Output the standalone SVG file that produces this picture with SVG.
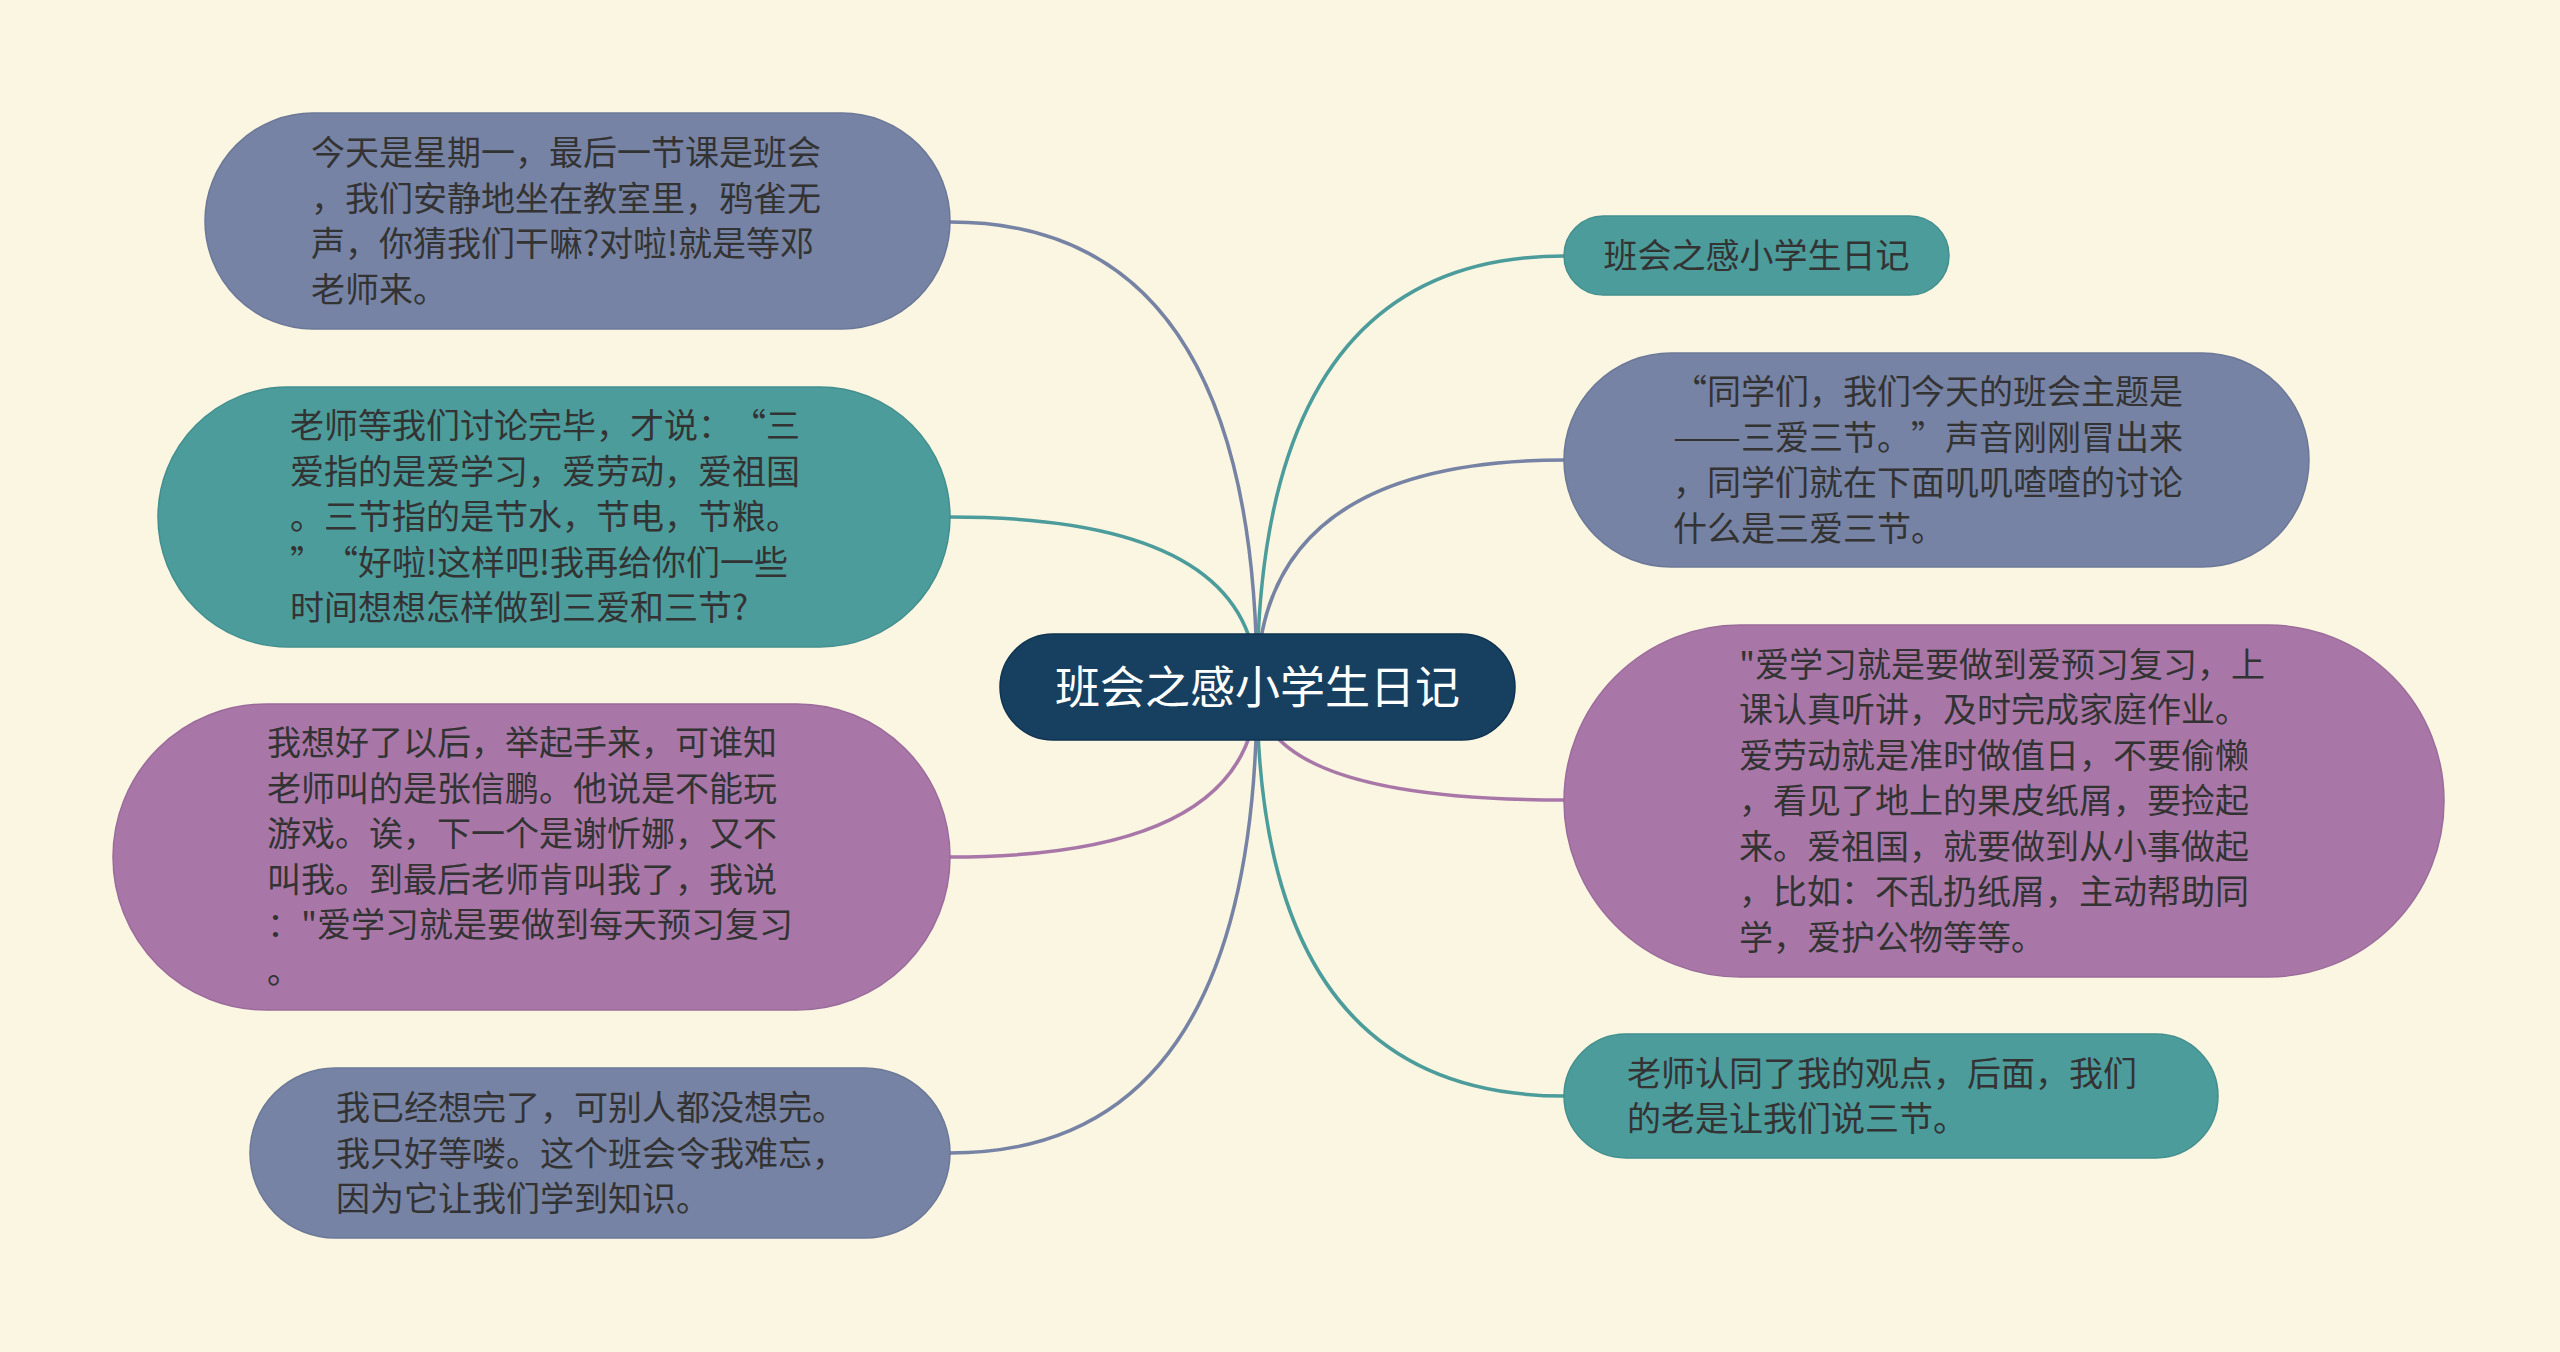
<svg xmlns="http://www.w3.org/2000/svg" width="2560" height="1352" viewBox="0 0 2560 1352">
<style>
.bg{fill:#faf6e1}
.slate{fill:#7783a4;stroke:#6c7898;stroke-width:1.5}
.teal{fill:#4c9c9c;stroke:#438f8f;stroke-width:1.5}
.purple{fill:#a877a8;stroke:#9b6b9b;stroke-width:1.5}
.root{fill:#173f5f;stroke:#0f3350;stroke-width:1.5}
.t{font-family:"Noto Sans CJK SC","Noto Sans",sans-serif;font-size:34px;fill:#333333}
.rt{font-family:"Noto Sans CJK SC","Noto Sans",sans-serif;font-size:45px;fill:#ffffff}
.c{fill:none;stroke-width:3.5;stroke-linecap:round}
.cs{stroke:#7783a4}
.ct{stroke:#4c9c9c}
.cp{stroke:#a877a8}
</style>
<rect class="bg" x="0" y="0" width="2560" height="1352"/>
<g id="connectors">
<path class="c cs" d="M 1257 687 Q 1257 222 950 222"/>
<path class="c ct" d="M 1257 687 Q 1257 517 950 517"/>
<path class="c cp" d="M 1257 687 Q 1257 857 950 857"/>
<path class="c cs" d="M 1257 687 Q 1257 1153 950 1153"/>
<path class="c ct" d="M 1257 687 Q 1257 256 1564 256"/>
<path class="c cs" d="M 1257 687 Q 1257 460 1564 460"/>
<path class="c cp" d="M 1257 687 Q 1257 800 1564 800"/>
<path class="c ct" d="M 1257 687 Q 1257 1096 1564 1096"/>
</g>
<g id="node-left-1">
<rect class="slate" x="205" y="113" width="745" height="216" rx="108"/>
<text class="t"><tspan x="311" y="165">今天是星期一，最后一节课是班会</tspan><tspan x="311" y="210.5">，我们安静地坐在教室里，鸦雀无</tspan><tspan x="311" y="256">声，你猜我们干嘛?对啦!就是等邓</tspan><tspan x="311" y="301.5">老师来。</tspan></text>
</g>
<g id="node-left-2">
<rect class="teal" x="158" y="387" width="792" height="260" rx="130"/>
<text class="t"><tspan x="290" y="438">老师等我们讨论完毕，才说：</tspan><tspan x="732" y="438">“</tspan><tspan x="766" y="438">三</tspan><tspan x="290" y="483.5">爱指的是爱学习，爱劳动，爱祖国</tspan><tspan x="290" y="529">。三节指的是节水，节电，节粮。</tspan><tspan x="290" y="574.5">”</tspan><tspan x="324" y="574.5">“</tspan><tspan x="358" y="574.5">好啦!这样吧!我再给你们一些</tspan><tspan x="290" y="620">时间想想怎样做到三爱和三节?</tspan></text>
</g>
<g id="node-left-3">
<rect class="purple" x="113" y="704" width="837" height="306" rx="153"/>
<text class="t"><tspan x="267" y="755">我想好了以后，举起手来，可谁知</tspan><tspan x="267" y="800.5">老师叫的是张信鹏。他说是不能玩</tspan><tspan x="267" y="846">游戏。诶，下一个是谢忻娜，又不</tspan><tspan x="267" y="891.5">叫我。到最后老师肯叫我了，我说</tspan><tspan x="267" y="937">："爱学习就是要做到每天预习复习</tspan><tspan x="267" y="982.5">。</tspan></text>
</g>
<g id="node-left-4">
<rect class="slate" x="250" y="1068" width="700" height="170" rx="85"/>
<text class="t"><tspan x="336" y="1120">我已经想完了，可别人都没想完。</tspan><tspan x="336" y="1165.5">我只好等喽。这个班会令我难忘，</tspan><tspan x="336" y="1211">因为它让我们学到知识。</tspan></text>
</g>
<g id="node-root">
<rect class="root" x="1000" y="634" width="515" height="106" rx="53"/>
<text class="rt" x="1257.5" y="704" text-anchor="middle">班会之感小学生日记</text>
</g>
<g id="node-right-1">
<rect class="teal" x="1564" y="216" width="385" height="79" rx="39.5"/>
<text class="t" x="1756.5" y="268" text-anchor="middle">班会之感小学生日记</text>
</g>
<g id="node-right-2">
<rect class="slate" x="1564" y="353" width="745" height="214" rx="107"/>
<text class="t"><tspan x="1673" y="404">“</tspan><tspan x="1707" y="404">同学们，我们今天的班会主题是</tspan><tspan x="1673" y="449.5" textLength="68" lengthAdjust="spacingAndGlyphs">——</tspan><tspan x="1741" y="449.5">三爱三节。</tspan><tspan x="1911" y="449.5">”</tspan><tspan x="1945" y="449.5">声音刚刚冒出来</tspan><tspan x="1673" y="495">，同学们就在下面叽叽喳喳的讨论</tspan><tspan x="1673" y="540.5">什么是三爱三节。</tspan></text>
</g>
<g id="node-right-3">
<rect class="purple" x="1564" y="625" width="880" height="352" rx="176"/>
<text class="t"><tspan x="1739" y="676.5">"爱学习就是要做到爱预习复习，上</tspan><tspan x="1739" y="722">课认真听讲，及时完成家庭作业。</tspan><tspan x="1739" y="767.5">爱劳动就是准时做值日，不要偷懒</tspan><tspan x="1739" y="813">，看见了地上的果皮纸屑，要捡起</tspan><tspan x="1739" y="858.5">来。爱祖国，就要做到从小事做起</tspan><tspan x="1739" y="904">，比如：不乱扔纸屑，主动帮助同</tspan><tspan x="1739" y="949.5">学，爱护公物等等。</tspan></text>
</g>
<g id="node-right-4">
<rect class="teal" x="1564" y="1034" width="654" height="124" rx="62"/>
<text class="t"><tspan x="1627" y="1085.5">老师认同了我的观点，后面，我们</tspan><tspan x="1627" y="1131">的老是让我们说三节。</tspan></text>
</g>
</svg>
